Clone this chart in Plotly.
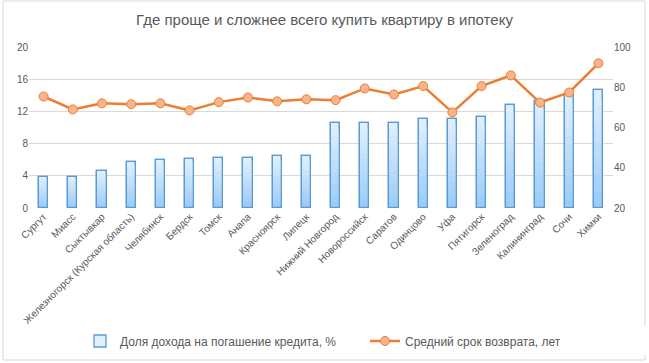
import plotly.graph_objects as go

cities = ["Сургут", "Миасс", "Сыктывкар", "Железногорск (Курская область)", "Челябинск",
          "Бердск", "Томск", "Анапа", "Красноярск", "Липецк", "Нижний Новгород",
          "Новороссийск", "Саратов", "Одинцово", "Уфа", "Пятигорск", "Зеленоград",
          "Калининград", "Сочи", "Химки"]
income_share = [3.9, 3.9, 4.65, 5.75, 6.0, 6.1, 6.25, 6.25, 6.4, 6.4, 10.5,
                10.6, 10.6, 11.0, 11.1, 11.35, 12.85, 13.3, 14.0, 14.6]
term = [75.4, 69.0, 72.0, 71.6, 72.0, 68.5, 72.6, 74.9, 73.0, 74.0, 73.6,
        79.4, 76.4, 80.6, 67.5, 80.6, 85.9, 72.4, 77.4, 91.9]

bar_name = "Доля дохода на погашение кредита, %"
line_name = "Средний срок возврата, лет"
title = "Где проще и сложнее всего купить квартиру в ипотеку"

fig = go.Figure()

# gradient bars: stacked overlays from light (top) to darker (bottom)
N = 14
light = (224, 239, 253)
dark = (155, 203, 247)
for k in range(N):
    f = 1 - k / N
    t = k / (N - 1)
    c = tuple(int(round(light[i] + (dark[i] - light[i]) * t)) for i in range(3))
    fig.add_trace(go.Bar(
        x=cities, y=[v * f for v in income_share], width=0.32,
        marker=dict(color=f"rgb{c}", line=dict(width=1.3 if k == 0 else 0, color="#5b9bd5")),
        name=bar_name, showlegend=(k == 0), legendgroup="b"))
fig.add_trace(go.Bar(
    x=cities, y=income_share, width=0.32,
    marker=dict(color="rgba(0,0,0,0)", line=dict(width=1.3, color="#5b9bd5")),
    showlegend=False, legendgroup="b"))

fig.add_trace(go.Scatter(
    x=cities, y=term, yaxis="y2", mode="lines+markers", name=line_name,
    line=dict(color="#ed7d31", width=2.5),
    marker=dict(symbol="circle", size=9, color="#f8b58c", line=dict(color="#ed7d31", width=1))))

fig.update_layout(
    width=649, height=363,
    margin=dict(l=29, r=36, t=47, b=155, autoexpand=False),
    paper_bgcolor="white", plot_bgcolor="white",
    barmode="overlay", bargap=0,
    font=dict(family="Liberation Sans, Arial, sans-serif", color="#595959", size=10),
    title=dict(text=title, x=0.5, xanchor="center", y=1 - 20 / 363, yref="container",
               yanchor="middle", font=dict(size=15, color="#595959")),
    xaxis=dict(tickangle=-45, tickfont=dict(size=10, color="#595959"), showgrid=False,
               showline=False, ticks="", automargin=False, range=[-0.5, len(cities) - 0.5]),
    yaxis=dict(range=[0, 20], dtick=4, showgrid=True, gridcolor="#d9d9d9", gridwidth=1,
               zeroline=False, showline=False, ticks="", tickfont=dict(size=10, color="#595959"),
               automargin=False),
    yaxis2=dict(range=[20, 100], dtick=20, overlaying="y", side="right", showgrid=False,
                zeroline=False, showline=False, ticks="", tickfont=dict(size=10, color="#595959"),
                automargin=False),
    legend=dict(orientation="h", x=(80 - 29) / 584, xanchor="left", y=-0.826, yanchor="middle",
                font=dict(size=12, color="#595959"), traceorder="normal",
                entrywidth=240, entrywidthmode="pixels"),
    shapes=[dict(type="rect", xref="paper", yref="paper",
                 x0=(3 - 29) / 584, x1=(645 - 29) / 584,
                 y0=(208 - 360) / 161, y1=(208 - 1) / 161,
                 line=dict(color="#d9d9d9", width=1), layer="below")],
)

fig.write_html("out.html", config={"displayModeBar": False},
               post_script="document.body.style.margin='0';")
